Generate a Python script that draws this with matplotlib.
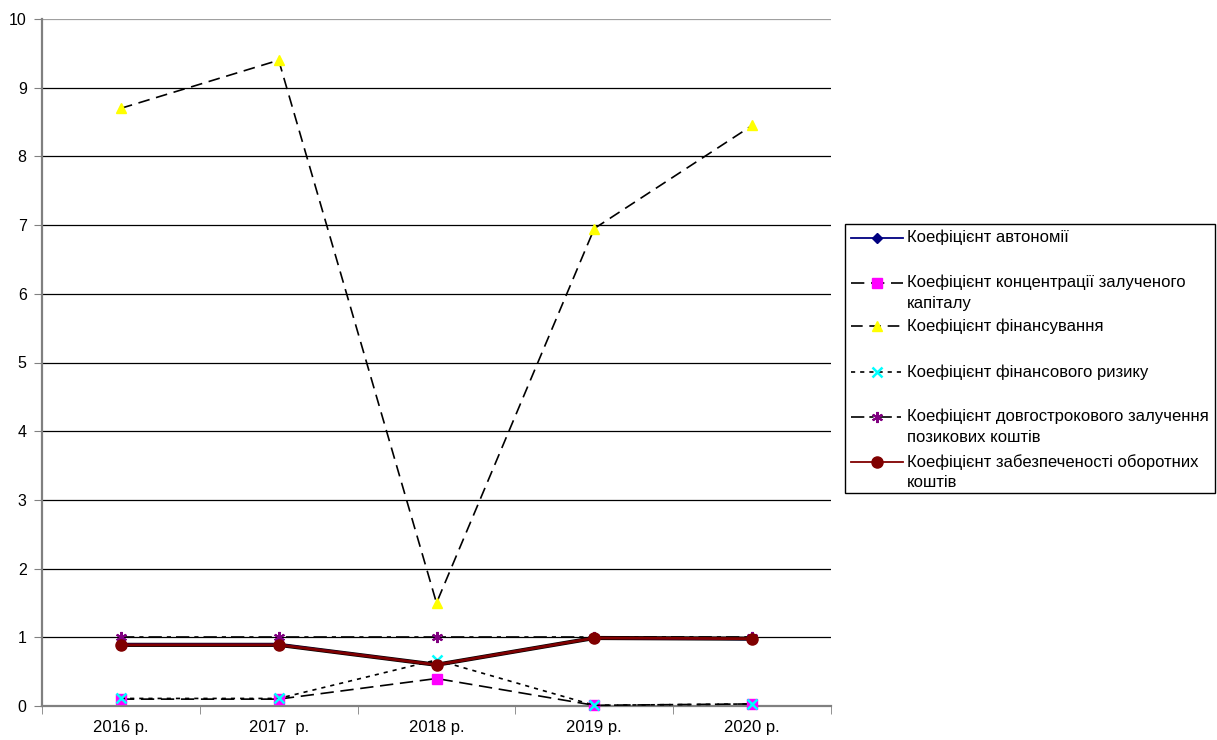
import matplotlib
matplotlib.use("Agg")
import matplotlib.pyplot as plt
from matplotlib.lines import Line2D
from matplotlib.patches import Rectangle

plt.rcParams['font.family'] = ['Liberation Sans', 'DejaVu Sans']

years = ["2016 р.", "2017  р.", "2018 р.", "2019 р.", "2020 р."]

autonomy = [0.90, 0.90, 0.60, 0.99, 0.97]
concentration = [0.10, 0.10, 0.40, 0.01, 0.03]
financing = [8.70, 9.40, 1.50, 6.95, 8.45]
fin_risk = [0.11, 0.11, 0.67, 0.01, 0.03]
long_term = [1.00, 1.00, 1.00, 1.00, 1.00]
working_capital = [0.89, 0.89, 0.60, 0.99, 0.98]

labels = [
    "Коефіцієнт автономії",
    "Коефіцієнт концентрації залученого\nкапіталу",
    "Коефіцієнт фінансування",
    "Коефіцієнт фінансового ризику",
    "Коефіцієнт довгострокового залучення\nпозикових коштів",
    "Коефіцієнт забезпеченості оборотних\nкоштів",
]

styles = [
    dict(color="#000080", ls="-", lw=1.3, marker="D", ms=5, mfc="#000080", mec="#000080"),
    dict(color="black", ls=(0, (8, 4)), lw=1.2, marker="s", ms=6.5, mfc="#ff00ff", mec="#ff00ff"),
    dict(color="black", ls=(0, (7, 4)), lw=1.2, marker="^", ms=7.5, mfc="#ffff00", mec="#ffff00"),
    dict(color="black", ls=(0, (2.5, 3)), lw=1.2, marker="x", ms=6.5, mfc="#00ffff", mec="#00ffff", mew=1.8),
    dict(color="black", ls=(0, (8, 3, 2.5, 3)), lw=1.2, marker=(6, 2, 0), ms=8, mfc="#800080", mec="#800080", mew=1.5),
    dict(color="#800000", ls="-", lw=2.0, marker="o", ms=8, mfc="#800000", mec="#800000"),
]

series = [autonomy, concentration, financing, fin_risk, long_term, working_capital]

fig = plt.figure(figsize=(12.17, 7.40), dpi=100)
ax = fig.add_axes([42 / 1217, 1 - 706 / 740, (831 - 42) / 1217, (706 - 19) / 740])

x = list(range(len(years)))
for vals, st in zip(series, styles):
    if st["color"] == "#800000":
        # dark underline beneath the working-capital line
        ax.plot(x, vals, color="black", lw=3.0, zorder=4)
    ax.plot(x, vals, zorder=5, clip_on=False, **st)

ax.set_xlim(-0.5, len(years) - 0.5)
ax.set_ylim(0, 10)
ax.set_yticks(range(0, 11))
ax.set_xticks(x)
ax.set_xticklabels(years, fontsize=12)
ax.set_xticks([i - 0.5 for i in range(len(years) + 1)], minor=True)
ax.tick_params(axis="x", which="major", length=0, pad=10)
ax.tick_params(axis="x", which="minor", length=6, color="#808080", direction="out")
ax.tick_params(axis="y", length=6, color="#808080", direction="out", labelsize=11.5, pad=5)

for v in range(1, 11):
    ax.axhline(v, color="black" if v < 10 else "#a0a0a0", lw=0.9, zorder=1)

for side in ("top", "right"):
    ax.spines[side].set_visible(False)
for side in ("left", "bottom"):
    ax.spines[side].set_color("#808080")
    ax.spines[side].set_linewidth(1.6)

# legend panel drawn in figure pixel coordinates
W, H = 1217.0, 740.0
def fx(px):
    return px / W
def fy(py):
    return 1 - py / H

box = Rectangle((fx(845), fy(493)), fx(1215) - fx(845), fy(224) - fy(493),
                transform=fig.transFigure, fill=False, edgecolor="black", lw=1.0)
fig.add_artist(box)

entry_y = [238, 283, 326, 372, 417, 462]
for yy, lab, st in zip(entry_y, labels, styles):
    st2 = dict(st)
    if st2["color"] == "#800000":
        st2["lw"] = 1.3
    ln = Line2D([fx(851), fx(877), fx(903)], [fy(yy)] * 3, transform=fig.transFigure,
                markevery=[1], **st2)
    fig.add_artist(ln)
    fig.text(fx(907), fy(yy - 8), lab, fontsize=12, va="top", ha="left",
             linespacing=1.45, transform=fig.transFigure)

fig.savefig("out.png", dpi=100, facecolor="white")
